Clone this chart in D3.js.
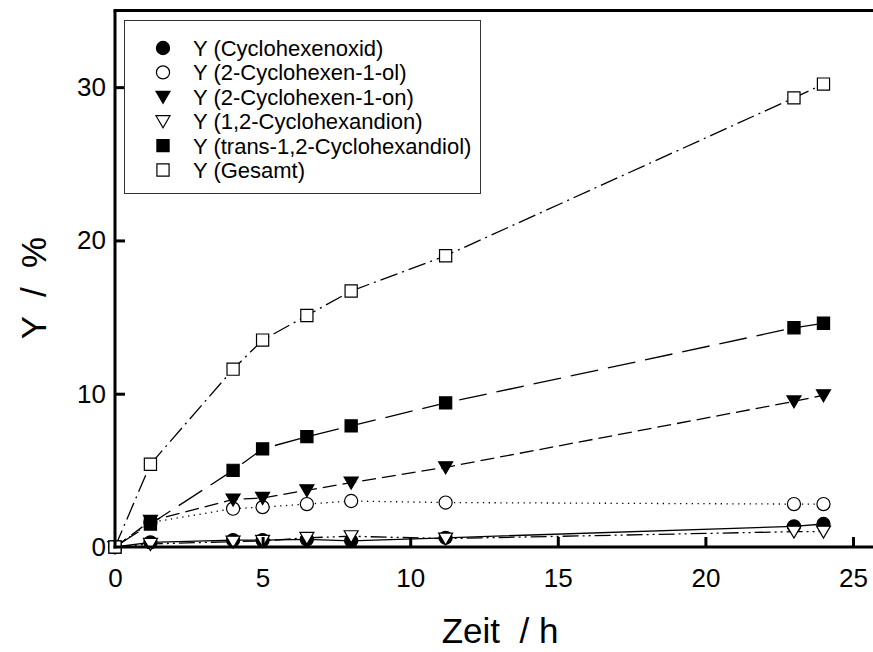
<!DOCTYPE html>
<html>
<head>
<meta charset="utf-8">
<script src="https://cdn.jsdelivr.net/npm/d3@7/dist/d3.min.js"></script>
<style>
  html, body { margin: 0; padding: 0; background: #fff; }
  svg { display: block; font-family: "Liberation Sans", Arial, sans-serif; }
</style>
</head>
<body>
<svg id="chart" width="873" height="652"></svg>
<script>
// Reaction time in hours
const zeit = [0, 1.2, 4, 5, 6.5, 8, 11.2, 23, 24];

// Yields in % per product
const yOxid   = [0, 0.3, 0.45, 0.45, 0.5, 0.4, 0.6, 1.35, 1.5];
const yOl     = [0, 1.6, 2.5, 2.6, 2.8, 3.0, 2.9, 2.8, 2.8];
const yOn     = [0, 1.7, 3.1, 3.2, 3.7, 4.2, 5.2, 9.5, 9.9];
const yDion   = [0, 0.2, 0.35, 0.4, 0.6, 0.7, 0.55, 1.0, 1.0];
const yDiol   = [0, 1.5, 5.0, 6.4, 7.2, 7.9, 9.4, 14.3, 14.6];
const yGesamt = [0, 5.4, 11.6, 13.5, 15.1, 16.7, 19.0, 29.3, 30.2];

const seriesNames = [
  "Y (Cyclohexenoxid)",
  "Y (2-Cyclohexen-1-ol)",
  "Y (2-Cyclohexen-1-on)",
  "Y (1,2-Cyclohexandion)",
  "Y (trans-1,2-Cyclohexandiol)",
  "Y (Gesamt)"
];
const seriesValues = [yOxid, yOl, yOn, yDion, yDiol, yGesamt];

const xTicks = [0, 5, 10, 15, 20, 25];
const yTicks = [0, 10, 20, 30];

// Marker shape, fill and line dash per series
const styles = [
  { shape: "circle",   filled: true,  dash: null },
  { shape: "circle",   filled: false, dash: "1.3,4.5" },
  { shape: "triangle", filled: true,  dash: "14,6" },
  { shape: "triangle", filled: false, dash: "16,4,2,4,2,4" },
  { shape: "square",   filled: true,  dash: "28,10" },
  { shape: "square",   filled: false, dash: "18,5,2,5" }
];

const svg = d3.select("#chart");
const W = 873;
const x = d3.scaleLinear().domain([0, 25]).range([115, 853]);
const y = d3.scaleLinear().domain([0, 35]).range([547, 10.5]);

function markerPath(shape) {
  if (shape === "circle") return d3.symbol(d3.symbolCircle, 135)();
  if (shape === "square") return d3.symbol(d3.symbolSquare, 148)();
  // downward triangle
  return "M-7,-5.5L7,-5.5L0,6.5Z";
}

const plot = svg.append("g");

seriesValues.forEach((vals, i) => {
  const st = styles[i];
  const pts = zeit.map((t, j) => [t, vals[j]]);
  plot.append("path")
    .datum(pts)
    .attr("fill", "none")
    .attr("stroke", "#000")
    .attr("stroke-width", 1.3)
    .attr("stroke-dasharray", st.dash)
    .attr("d", d3.line().x(d => x(d[0])).y(d => y(d[1])));
  plot.selectAll(null)
    .data(pts)
    .join("path")
    .attr("transform", d => `translate(${x(d[0])},${y(d[1])})`)
    .attr("d", markerPath(st.shape))
    .attr("fill", st.filled ? "#000" : "#fff")
    .attr("stroke", "#000")
    .attr("stroke-width", 1.2);
});

// Frame: left axis, top border, bottom axis running to the edge
const frame = svg.append("g").attr("stroke", "#000").attr("stroke-width", 3);
frame.append("line").attr("x1", x(0)).attr("x2", x(0)).attr("y1", y(35)).attr("y2", y(0) + 1.5);
frame.append("line").attr("x1", x(0) - 1.5).attr("x2", W).attr("y1", y(35)).attr("y2", y(35));
frame.append("line").attr("x1", x(0) - 1.5).attr("x2", W).attr("y1", y(0)).attr("y2", y(0));

// X axis: inward ticks
const xAxis = d3.axisBottom(x).tickValues(xTicks).tickSizeInner(-10).tickSizeOuter(0).tickPadding(22);
const gx = svg.append("g").attr("transform", `translate(0,${y(0)})`).call(xAxis);
gx.select(".domain").remove();
gx.selectAll(".tick line").attr("stroke-width", 3).filter(d => d === 0).remove();
gx.selectAll(".tick text").attr("font-size", 26).attr("fill", "#000")
  .attr("font-family", "Liberation Sans, Arial, sans-serif");

// Y axis: inward ticks
const yAxis = d3.axisLeft(y).tickValues(yTicks).tickSizeInner(-10).tickSizeOuter(0).tickPadding(9);
const gy = svg.append("g").attr("transform", `translate(${x(0)},0)`).call(yAxis);
gy.select(".domain").remove();
gy.selectAll(".tick line").attr("stroke-width", 3).filter(d => d === 0).remove();
gy.selectAll(".tick text").attr("font-size", 26).attr("fill", "#000")
  .attr("font-family", "Liberation Sans, Arial, sans-serif");

// Axis titles
svg.append("text")
  .attr("x", 500).attr("y", 643)
  .attr("text-anchor", "middle")
  .attr("font-size", 35)
  .style("white-space", "pre")
  .text("Zeit  / h");
svg.append("text")
  .attr("transform", "translate(46,288) rotate(-90)")
  .attr("text-anchor", "middle")
  .attr("font-size", 35)
  .style("white-space", "pre")
  .text("Y  /  %");

// Legend
const lg = svg.append("g");
lg.append("rect")
  .attr("x", 124.5).attr("y", 20.5).attr("width", 356).attr("height", 173)
  .attr("fill", "#fff").attr("stroke", "#333").attr("stroke-width", 1);
seriesNames.forEach((name, i) => {
  const cy = 48 + i * 24.4;
  const st = styles[i];
  lg.append("path")
    .attr("transform", `translate(163,${cy})`)
    .attr("d", markerPath(st.shape))
    .attr("fill", st.filled ? "#000" : "#fff")
    .attr("stroke", "#000")
    .attr("stroke-width", 1.2);
  lg.append("text")
    .attr("x", 193).attr("y", cy + 8)
    .attr("font-size", 22)
    .text(name);
});
</script>
</body>
</html>
